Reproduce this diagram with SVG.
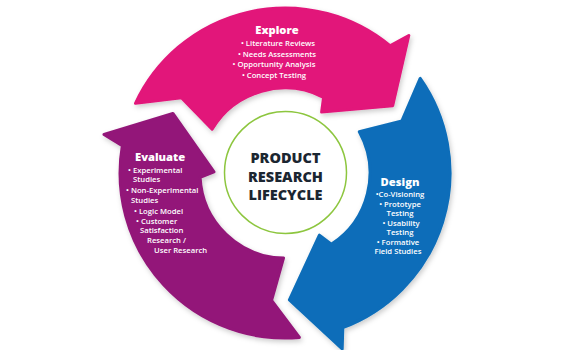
<svg xmlns="http://www.w3.org/2000/svg" width="575" height="350" viewBox="0 0 575 350">
<defs>
<filter id="sh" x="-20%" y="-20%" width="140%" height="140%">
<feDropShadow dx="1.5" dy="2.5" stdDeviation="2.5" flood-color="#000" flood-opacity="0.2"/>
</filter>
<style>
.arrow{stroke-width:3;stroke-linejoin:round;filter:url(#sh)}
.pink{fill:#E2157A;stroke:#E2157A}
.blue{fill:#0A6DB9;stroke:#0A6DB9}
.purple{fill:#931879;stroke:#931879}
.h{font-family:"Open Sans",sans-serif;font-weight:800;font-size:11.2px;fill:#fff}
.t{font-family:"Open Sans",sans-serif;font-weight:600;font-size:7.7px;fill:#fff}
.c{font-family:"Open Sans",sans-serif;font-weight:800;font-size:14.5px;fill:#1B2631;text-anchor:middle}
</style>
</defs>
<rect width="575" height="350" fill="#fff"/>
<g id="explore">
<path class="arrow pink" d="M392.7,105.7 L408.8,35.5 L390.0,45.7 A165,165 0 0 0 135.5,103.3 L181.4,97.8 L212.1,129.2 A85,85 0 0 1 323.6,97.3 L321.6,112.1 Z"/>
<g text-anchor="middle">
<text class="h" x="277" y="34">Explore</text>
<text class="t" x="278" y="46">• Literature Reviews</text>
<text class="t" x="277" y="56.5">• Needs Assessments</text>
<text class="t" x="274" y="67">• Opportunity Analysis</text>
<text class="t" x="274" y="77.5">• Concept Testing</text>
</g>
</g>
<g id="design">
<path class="arrow blue" d="M289.4,299.9 L342.2,349.0 L342.8,327.6 A165,165 0 0 0 420.2,78.4 L401.9,120.9 L359.3,131.8 A85,85 0 0 1 331.3,244.3 L319.4,235.1 Z"/>
<g text-anchor="middle">
<text class="h" x="400" y="186">Design</text>
<text class="t" x="400" y="197">•Co-Visioning</text>
<text class="t" x="400" y="206.5">• Prototype</text>
<text class="t" x="400" y="216">Testing</text>
<text class="t" x="401" y="225.5">• Usability</text>
<text class="t" x="400" y="235">Testing</text>
<text class="t" x="398" y="244.5">• Formative</text>
<text class="t" x="398" y="254">Field Studies</text>
</g>
</g>
<g id="evaluate">
<path class="arrow purple" d="M172.9,113.4 L104.0,134.5 L122.3,145.8 A165,165 0 0 0 299.4,337.4 L271.6,300.3 L283.5,258.0 A85,85 0 0 1 200.1,177.4 L214.0,171.8 Z"/>
<text class="h" x="135" y="161">Evaluate</text>
<text class="t" x="128" y="172.5">• Experimental</text>
<text class="t" x="133" y="182">Studies</text>
<text class="t" x="126" y="193">• Non-Experimental</text>
<text class="t" x="131" y="202.5">Studies</text>
<text class="t" x="134" y="213.5">• Logic Model</text>
<text class="t" x="136" y="223.5">• Customer</text>
<text class="t" x="140" y="233">Satisfaction</text>
<text class="t" x="147" y="243">Research /</text>
<text class="t" x="154" y="253">User Research</text>
</g>
<g id="center">
<circle cx="285.5" cy="172.5" r="61" fill="#fff" stroke="#8DC63F" stroke-width="1.5"/>
<text class="c" x="285.5" y="163">PRODUCT</text>
<text class="c" x="285.5" y="181.5">RESEARCH</text>
<text class="c" x="285.5" y="199.5">LIFECYCLE</text>
</g>
</svg>
